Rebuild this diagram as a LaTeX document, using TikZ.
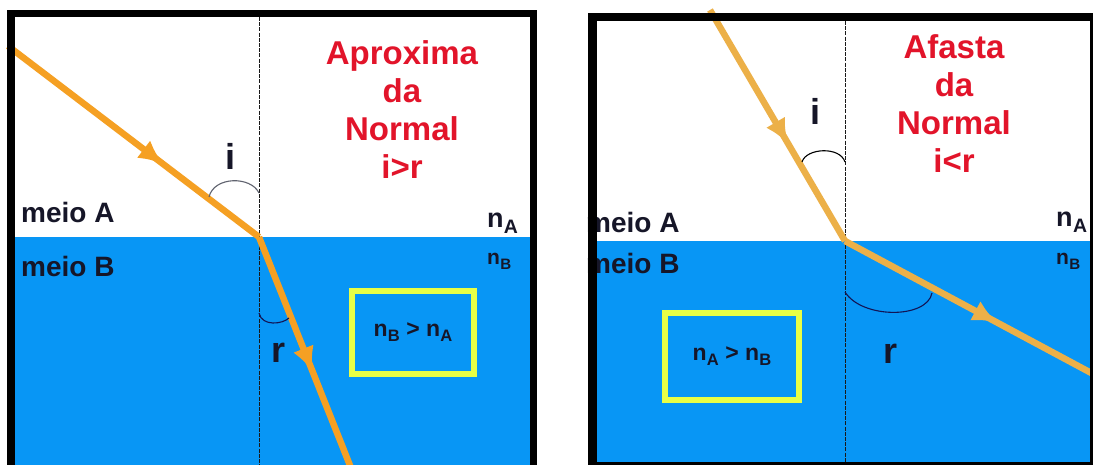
\documentclass[tikz,border=0pt]{standalone}
\usepackage{fontspec}
\setmainfont{Liberation Sans}
\usetikzlibrary{arrows.meta,positioning,decorations.markings}
\definecolor{cWater}{RGB}{8,150,245}
\definecolor{cRayA}{RGB}{245,160,35}
\definecolor{cRayB}{RGB}{236,176,72}
\definecolor{cTitle}{RGB}{226,20,42}
\definecolor{cBoxY}{RGB}{232,255,70}
\definecolor{cInk}{RGB}{22,22,40}
\definecolor{cArcL}{RGB}{95,98,110}
\definecolor{cArcD}{RGB}{18,20,85}
\newcommand{\nidx}[1]{n\kern0.3pt\raisebox{-0.42ex}{\scalebox{0.72}{#1}}}
\tikzset{
	frame/.style={draw=black, line width=8pt},
	normline/.style={draw=black!90, line width=0.9pt, dash pattern=on 4pt off 1.2pt},
	ray/.style={line width=6.5pt, line cap=butt},
	midarrow/.style={postaction={decorate}, decoration={markings,
		mark=at position #1 with {\arrow{Latex[length=25pt,width=22pt]}}}},
	anglearc/.style={line width=1.1pt},
	titletxt/.style={font=\fontsize{33}{38}\selectfont\bfseries, text=cTitle,
		align=center, inner sep=0pt},
	medlbl/.style={font=\fontsize{28}{30}\selectfont\bfseries, text=cInk,
		inner sep=0pt, anchor=base west},
	anglbl/.style={font=\fontsize{36}{40}\selectfont\bfseries, text=cInk,
		inner sep=0pt, anchor=base},
	idxA/.style={font=\fontsize{27}{30}\selectfont\bfseries, text=cInk,
		inner sep=0pt, anchor=base west},
	idxB/.style={font=\fontsize{21}{24}\selectfont\bfseries, text=cInk,
		inner sep=0pt, anchor=base west},
	nbox/.style={draw=cBoxY, line width=6pt, text=cInk, inner sep=0pt,
		font=\fontsize{23}{24}\selectfont\bfseries},
}
\begin{document}
\begin{tikzpicture}[x=1pt,y=-1pt]
	\useasboundingbox (0,0) rectangle (1093,465);
	\clip (0,0) rectangle (1093,465);
	\fill[white] (0,0) rectangle (1093,465);
	% panel 1: towards the normal
	\fill[cWater] (15,237) rectangle (530,470);
	\coordinate (LnTop) at (259,17);
	\coordinate (LnBot) at (259,470);
	\coordinate (LO) at (259,237);
	\coordinate (LinS) at (8,46);
	\coordinate (LrefE) at (355,478);
	\draw[normline] (LnTop) -- (LnBot);
	\draw[ray, color=cRayA, midarrow=0.62] (LinS) -- (LO);
	\draw[ray, color=cRayA, midarrow=0.56] (LO) -- (LrefE);
	\draw[anglearc, draw=cArcL] (209,197) .. controls (214,176) and (251,176) .. (259,193);
	\draw[anglearc, draw=cArcD] (259,313) .. controls (262,327) and (283,324) .. (289,318);
	\node[anglbl] (iL) at (230,170) {i};
	\node[anglbl] (rL) at (279,362) {r};
	\node[medlbl] (meioAL) at (21,223) {meio A};
	\node[medlbl] (meioBL) at (21,277) {meio B};
	\node[idxA] (nAL) at (487,228) {\nidx{A}};
	\node[idxB] (nBL) at (487,265) {\nidx{B}};
	\node[titletxt, anchor=north] (aprox) at (402,40) {Aproxima\\da\\Normal\\i>r};
	\node[nbox, minimum width=122, minimum height=83] (ineqL) at (413,332.5)
		{\nidx{B} > \nidx{A}};
	\draw[frame, line width=7.5pt] (11,13.5) rectangle (533.5,480);
	% panel 2: away from the normal
	\fill[cWater] (597,241) rectangle (1093,462);
	\coordinate (RnTop) at (845,21);
	\coordinate (RnBot) at (845,462);
	\coordinate (RO) at (845,241);
	\coordinate (RinS) at (710,10);
	\coordinate (RrefE) at (1095,375);
	\draw[normline] (RnTop) -- (RnBot);
	\draw[ray, color=cRayB, midarrow=0.58] (RinS) -- (RO);
	\draw[ray, color=cRayB, midarrow=0.61] (RO) -- (RrefE);
	\draw[anglearc, draw=black] (802,162) .. controls (806,148) and (840,146) .. (845,162);
	\draw[anglearc, draw=cArcD] (845,292) .. controls (862,319) and (927,319) .. (932,293);
	\node[anglbl] (iR) at (815,125) {i};
	\node[anglbl] (rR) at (890,363) {r};
	\node[medlbl] (meioAR) at (586,233) {meio A};
	\node[medlbl] (meioBR) at (586,273) {meio B};
	\node[idxA] (nAR) at (1056,227) {\nidx{A}};
	\node[idxB] (nBR) at (1056,265) {\nidx{B}};
	\node[titletxt, anchor=north] (afasta) at (954,34) {Afasta\\da\\Normal\\i<r};
	\node[nbox, minimum width=134, minimum height=87] (ineqR) at (732,356.5)
		{\nidx{A} > \nidx{B}};
	\draw[frame, line width=8.5pt] (592.5,17) rectangle (1094,466.5);
\end{tikzpicture}
\end{document}
